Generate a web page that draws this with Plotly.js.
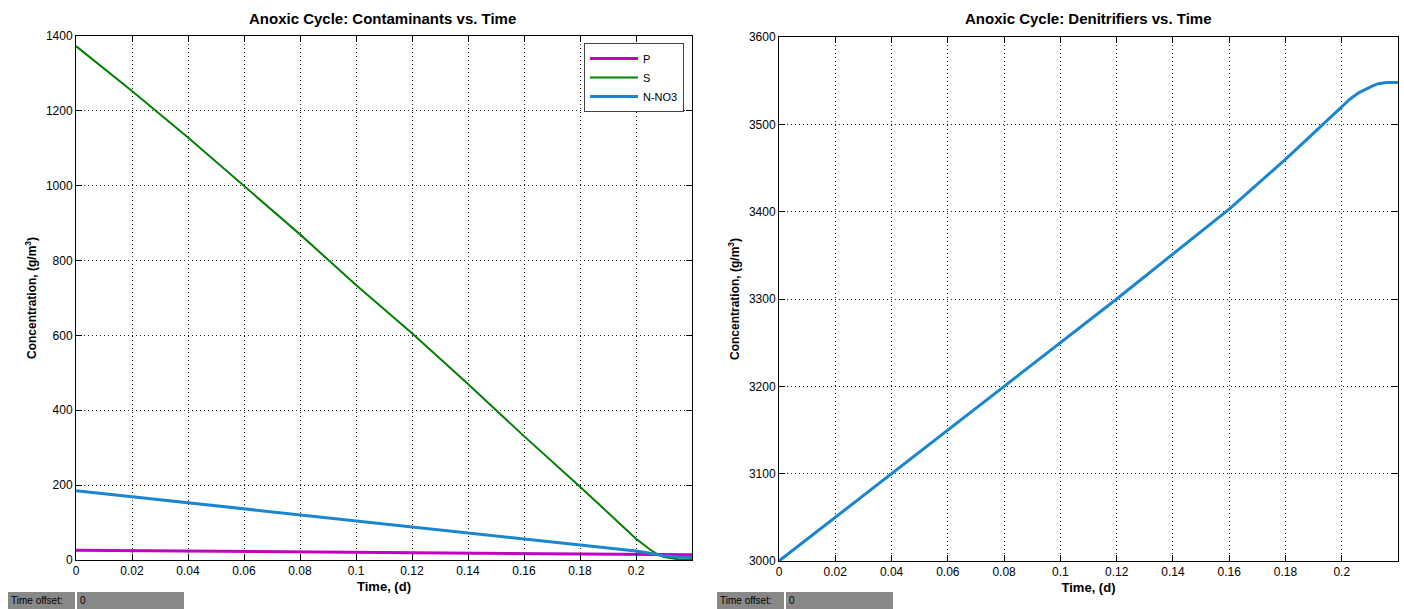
<!DOCTYPE html>
<html>
<head>
<meta charset="utf-8">
<script src="https://cdn.plot.ly/plotly-3.0.1.min.js"></script>
<style>
html,body{margin:0;padding:0;background:#fff;}
#chart{width:1404px;height:609px;}
</style>
</head>
<body>
<div id="chart"></div>
<script>
// Time points (d)
var timeContam = [0, 0.02, 0.04, 0.06, 0.08, 0.10, 0.12, 0.14, 0.16, 0.18, 0.20, 0.205, 0.2077, 0.21, 0.215, 0.22];
var seriesP    = [26, 25, 24, 23, 22, 21, 20, 18.5, 17.5, 16, 15, 14.5, 14.5, 14, 14, 14];
var seriesS    = [1373, 1253, 1129, 1000, 870, 735, 606, 470, 331, 196, 57, 28, 15, 8, 2, 1];
var seriesNO3  = [185, 169, 153, 137, 121, 105, 89, 73, 57, 40, 24, 18, 15, 11, 8, 7];

var timeDenit  = [0, 0.04, 0.08, 0.12, 0.16, 0.18, 0.19, 0.195, 0.20, 0.203, 0.206, 0.209, 0.211, 0.213, 0.216, 0.22];
var seriesDenit= [3000, 3100, 3200, 3300, 3403, 3460, 3490, 3505, 3521, 3529, 3536, 3541, 3544, 3546.5, 3548, 3548];

var xTickVals  = [0, 0.02, 0.04, 0.06, 0.08, 0.1, 0.12, 0.14, 0.16, 0.18, 0.2];
var xTickText  = ['0','0.02','0.04','0.06','0.08','0.1','0.12','0.14','0.16','0.18','0.2'];
var yLeftTicks = [0, 200, 400, 600, 800, 1000, 1200, 1400];
var yRightTicks= [3000, 3100, 3200, 3300, 3400, 3500, 3600];

var titleLeft  = 'Anoxic Cycle: Contaminants vs. Time';
var titleRight = 'Anoxic Cycle: Denitrifiers vs. Time';
var xTitle     = 'Time, (d)';
var yTitle     = 'Concentration, (g/m<sup>3</sup>)';
var legendNames= ['P', 'S', 'N-NO3'];

var W = 1404, H = 609;
function px(x){return x / W;}
function py(y){return 1 - y / H;}

var FONT = 'Liberation Sans, Arial, Helvetica, sans-serif';

var traces = [
  {x: timeContam, y: seriesP, name: legendNames[0], mode: 'lines', line: {color: '#c000c0', width: 3}, xaxis: 'x', yaxis: 'y'},
  {x: timeContam, y: seriesS, name: legendNames[1], mode: 'lines', line: {color: '#008000', width: 2}, xaxis: 'x', yaxis: 'y'},
  {x: timeContam, y: seriesNO3, name: legendNames[2], mode: 'lines', line: {color: '#1a86cf', width: 3}, xaxis: 'x', yaxis: 'y'},
  {x: timeDenit, y: seriesDenit, name: 'Denitrifiers', mode: 'lines', line: {color: '#1a86cf', width: 3}, xaxis: 'x2', yaxis: 'y2', showlegend: false}
];

function xAxis(domain, anchor){
  return {
    domain: domain, anchor: anchor, range: [0, 0.22],
    tickvals: xTickVals, ticktext: xTickText,
    ticks: 'inside', ticklen: 6, tickcolor: '#000', tickwidth: 1,
    showline: true, linecolor: '#000', linewidth: 1, mirror: 'ticks',
    showgrid: true, gridcolor: '#222', griddash: '1px,3px', gridwidth: 1,
    zeroline: false,
    tickfont: {family: FONT, size: 12, color: '#000'},
    title: {text: '<b>' + xTitle + '</b>', font: {family: FONT, size: 13, color: '#000'}, standoff: 4}
  };
}
function yAxis(domain, anchor, range, ticks){
  return {
    domain: domain, anchor: anchor, range: range,
    tickvals: ticks,
    ticks: 'inside', ticklen: 6, tickcolor: '#000', tickwidth: 1,
    showline: true, linecolor: '#000', linewidth: 1, mirror: 'ticks',
    showgrid: true, gridcolor: '#222', griddash: '1px,3px', gridwidth: 1,
    zeroline: false,
    tickfont: {family: FONT, size: 12, color: '#000'},
    title: {text: '<b>' + yTitle + '</b>', font: {family: FONT, size: 12, color: '#000'}, standoff: 6}
  };
}

var layout = {
  width: W, height: H,
  margin: {l: 0, r: 0, t: 0, b: 0},
  paper_bgcolor: '#fff', plot_bgcolor: '#fff',
  font: {family: FONT, color: '#000'},
  xaxis: xAxis([px(76), px(692)], 'y'),
  yaxis: yAxis([py(560), py(36)], 'x', [0, 1400], yLeftTicks),
  xaxis2: xAxis([px(779), px(1398)], 'y2'),
  yaxis2: yAxis([py(561), py(37)], 'x2', [3000, 3600], yRightTicks),
  showlegend: true,
  legend: {
    x: px(684), xanchor: 'right', y: py(43), yanchor: 'top',
    bgcolor: '#fff', bordercolor: '#444', borderwidth: 1,
    font: {family: FONT, size: 11, color: '#000'},
    itemwidth: 48, tracegroupgap: 0
  },
  annotations: [
    {text: '<b>' + titleLeft + '</b>', x: px(382), y: py(19), xanchor: 'center', yanchor: 'middle', xref: 'paper', yref: 'paper', showarrow: false, font: {family: FONT, size: 15, color: '#000'}},
    {text: '<b>' + titleRight + '</b>', x: px(1088), y: py(19), xanchor: 'center', yanchor: 'middle', xref: 'paper', yref: 'paper', showarrow: false, font: {family: FONT, size: 15, color: '#000'}},
    {text: 'Time offset:', x: px(9), y: py(600), xanchor: 'left', yanchor: 'middle', xref: 'paper', yref: 'paper', showarrow: false, font: {family: FONT, size: 10, color: '#000'}},
    {text: '0', x: px(78), y: py(600), xanchor: 'left', yanchor: 'middle', xref: 'paper', yref: 'paper', showarrow: false, font: {family: FONT, size: 10, color: '#000'}},
    {text: 'Time offset:', x: px(718), y: py(600), xanchor: 'left', yanchor: 'middle', xref: 'paper', yref: 'paper', showarrow: false, font: {family: FONT, size: 10, color: '#000'}},
    {text: '0', x: px(787), y: py(600), xanchor: 'left', yanchor: 'middle', xref: 'paper', yref: 'paper', showarrow: false, font: {family: FONT, size: 10, color: '#000'}}
  ],
  shapes: [
    {type: 'rect', xref: 'paper', yref: 'paper', x0: px(8), x1: px(75), y0: py(609), y1: py(592), fillcolor: '#888', line: {width: 0}, layer: 'above'},
    {type: 'rect', xref: 'paper', yref: 'paper', x0: px(77), x1: px(184), y0: py(609), y1: py(592), fillcolor: '#888', line: {width: 0}, layer: 'above'},
    {type: 'rect', xref: 'paper', yref: 'paper', x0: px(717), x1: px(784), y0: py(609), y1: py(592), fillcolor: '#888', line: {width: 0}, layer: 'above'},
    {type: 'rect', xref: 'paper', yref: 'paper', x0: px(786), x1: px(893), y0: py(609), y1: py(592), fillcolor: '#888', line: {width: 0}, layer: 'above'}
  ]
};

Plotly.newPlot('chart', traces, layout, {displayModeBar: false, staticPlot: true});
</script>
</body>
</html>
